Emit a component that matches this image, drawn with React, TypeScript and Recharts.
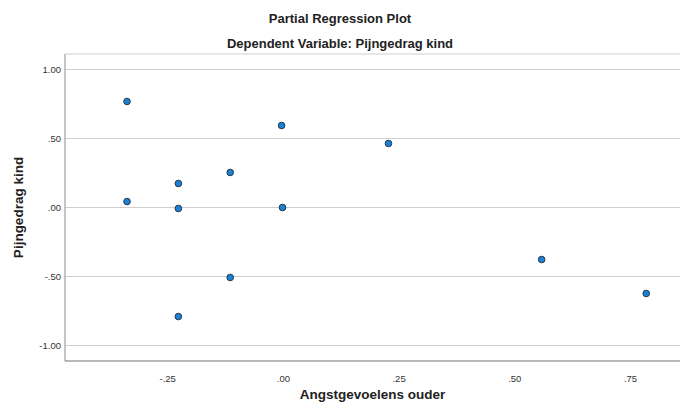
import { ScatterChart, Scatter, XAxis, YAxis, CartesianGrid, Label } from 'recharts'

// Partial regression plot: residuals of the parent anxiety score (x) vs. residuals of child pain behaviour (y)
const angstOuder = [-0.338, -0.338, -0.227, -0.227, -0.227, -0.115, -0.115, -0.004, -0.002, 0.227, 0.558, 0.784]
const pijnKind = [0.768, 0.043, 0.174, -0.007, -0.79, 0.254, -0.507, 0.594, 0.0, 0.464, -0.377, -0.623]

const xTicks = [-0.25, 0, 0.25, 0.5, 0.75]
const yTicks = [-1, -0.5, 0, 0.5, 1]

const points = angstOuder.map((x, i) => ({ x, y: pijnKind[i] }))

const FONT = '"Liberation Sans", Arial, sans-serif'

// SPSS style: no leading zero, two decimals
function spssFormat(v: number) {
  const s = Math.abs(v).toFixed(2).replace(/^0/, '')
  return v < 0 ? `-${s}` : s
}

function Dot(props: any) {
  const { cx, cy } = props
  return <circle cx={cx} cy={cy} r={3.3} fill="#1a82d6" stroke="#26364a" strokeWidth={1} />
}

export default function App() {
  return (
    <div style={{ position: 'absolute', left: 0, top: 0, width: 680, height: 403, background: '#fff', fontFamily: FONT }}>
      <div style={{ position: 'absolute', left: 0, width: 680, top: 11, textAlign: 'center', fontWeight: 'bold', fontSize: 13, color: '#222' }}>
        Partial Regression Plot
      </div>
      <div style={{ position: 'absolute', left: 0, width: 680, top: 36, textAlign: 'center', fontWeight: 'bold', fontSize: 13, color: '#222' }}>
        Dependent Variable: Pijngedrag kind
      </div>
      <ScatterChart width={680} height={403} margin={{ top: 54, right: 0, bottom: 0, left: 0 }}>
        <CartesianGrid horizontal vertical={false} stroke="#cfcfcf" />
        <XAxis
          type="number"
          dataKey="x"
          domain={[-0.472, 0.857]}
          ticks={xTicks}
          tickFormatter={spssFormat}
          height={42}
          tickSize={0}
          tickMargin={14}
          axisLine={{ stroke: '#8a8a8a' }}
          tick={{ fontSize: 9.5, fill: '#333', fontFamily: FONT }}
        >
          <Label value="Angstgevoelens ouder" position="insideBottom" offset={4} style={{ fontSize: 13.5, fontWeight: 'bold', fill: '#222', fontFamily: FONT }} />
        </XAxis>
        <YAxis
          type="number"
          dataKey="y"
          domain={[-1.112, 1.112]}
          ticks={yTicks}
          tickFormatter={spssFormat}
          width={65}
          tickSize={0}
          tickMargin={4}
          axisLine={{ stroke: '#8a8a8a' }}
          tick={{ fontSize: 9.5, fill: '#333', fontFamily: FONT }}
        >
          <Label value="Pijngedrag kind" angle={-90} position="insideLeft" offset={18} style={{ textAnchor: 'middle', fontSize: 13.5, fontWeight: 'bold', fill: '#222', fontFamily: FONT }} />
        </YAxis>
        <Scatter data={points} shape={<Dot />} isAnimationActive={false} />
      </ScatterChart>
    </div>
  )
}
